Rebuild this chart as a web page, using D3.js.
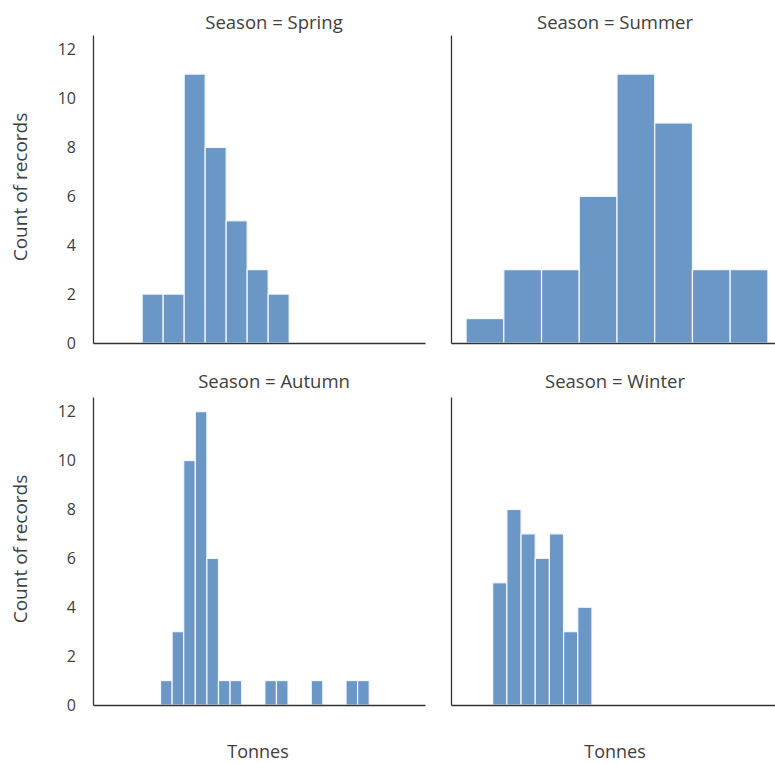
<!DOCTYPE html>
<html>
<head>
<meta charset="utf-8">
<script src="https://cdn.jsdelivr.net/npm/d3@7"></script>
<style>
  body { margin: 0; background: #fff; }
  svg text { font-family: "Open Sans", "Noto Sans", sans-serif; fill: #404040; }
</style>
</head>
<body>
<svg width="775" height="764"></svg>
<script>
"use strict";

// Facet order and histogram data (bin start, bin width in tonnes, counts per bin)
const seasons = ["Spring", "Summer", "Autumn", "Winter"];
const binStarts = [4.94, 1.56, 6.76, 4.2];
const binWidths = [2.083, 3.742, 1.15, 1.406];
const springCounts = [2, 2, 11, 8, 5, 3, 2];
const summerCounts = [1, 3, 3, 6, 11, 9, 3, 3];
const autumnCounts = [1, 3, 10, 12, 6, 1, 1, 0, 0, 1, 1, 0, 0, 1, 0, 0, 1, 1];
const winterCounts = [5, 8, 7, 6, 7, 3, 4];
const countsBySeason = [springCounts, summerCounts, autumnCounts, winterCounts];
const yTicks = [0, 2, 4, 6, 8, 10, 12];

// Building bins for each facet
function buildBins(i) {
  return countsBySeason[i].map((c, k) => ({
    x0: binStarts[i] + k * binWidths[i],
    x1: binStarts[i] + (k + 1) * binWidths[i],
    count: c
  }));
}
const facets = seasons.map((s, i) => ({ season: s, bins: buildBins(i) }));

// shared scales (sharex / sharey like a facet grid)
const allBins = facets.flatMap(f => f.bins);
const xMin = d3.min(allBins, d => d.x0), xMax = d3.max(allBins, d => d.x1);
const xPad = (xMax - xMin) * 0.05;
const yMax = d3.max(allBins, d => d.count) * 1.05;

const panelW = 332, panelH = 308;
const origins = [[93, 35], [451, 35], [93, 397], [451, 397]];
const titleX = [274, 615, 274, 615];
const titleY = [29, 29, 388, 388];

const x = d3.scaleLinear().domain([xMin - xPad, xMax + xPad]).range([0, panelW]);
const y = d3.scaleLinear().domain([0, yMax]).range([panelH, 0]);

const svg = d3.select("svg");

facets.forEach((f, i) => {
  const [ox, oy] = origins[i];
  const g = svg.append("g").attr("transform", `translate(${ox},${oy})`);

  // bars
  g.selectAll("rect")
    .data(f.bins.filter(b => b.count > 0))
    .join("rect")
    .attr("x", d => x(d.x0))
    .attr("y", d => y(d.count))
    .attr("width", d => x(d.x1) - x(d.x0))
    .attr("height", d => y(0) - y(d.count))
    .attr("fill", "#6b97c6")
    .attr("stroke", "#f4f7fb")
    .attr("stroke-width", 1.2);

  // y axis, labels only on left column
  const yAxis = d3.axisLeft(y).tickValues(yTicks).tickSize(0).tickPadding(17);
  const ya = g.append("g").call(yAxis);
  ya.select(".domain").attr("stroke", "#333").attr("stroke-width", 1.3);
  ya.selectAll("text").style("font-size", "16px").attr("fill", "#404040");
  if (i % 2 === 1) ya.selectAll(".tick").remove();

  // x axis without ticks
  const xa = g.append("g")
    .attr("transform", `translate(0,${panelH})`)
    .call(d3.axisBottom(x).tickValues([]).tickSize(0));
  xa.select(".domain").attr("stroke", "#333").attr("stroke-width", 1.3);

  // facet title
  svg.append("text")
    .attr("x", titleX[i])
    .attr("y", titleY[i])
    .attr("text-anchor", "middle")
    .style("font-size", "18.5px")
    .text(`Season = ${f.season}`);

  if (i % 2 === 0) {
    svg.append("text")
      .attr("transform", `translate(27,${oy + panelH / 2 - 2}) rotate(-90)`)
      .attr("text-anchor", "middle")
      .style("font-size", "19px")
      .text("Count of records");
  }
  if (i >= 2) {
    svg.append("text")
      .attr("x", i === 2 ? 258 : 615)
      .attr("y", 758)
      .attr("text-anchor", "middle")
      .style("font-size", "18px")
      .text("Tonnes");
  }
});
</script>
</body>
</html>
